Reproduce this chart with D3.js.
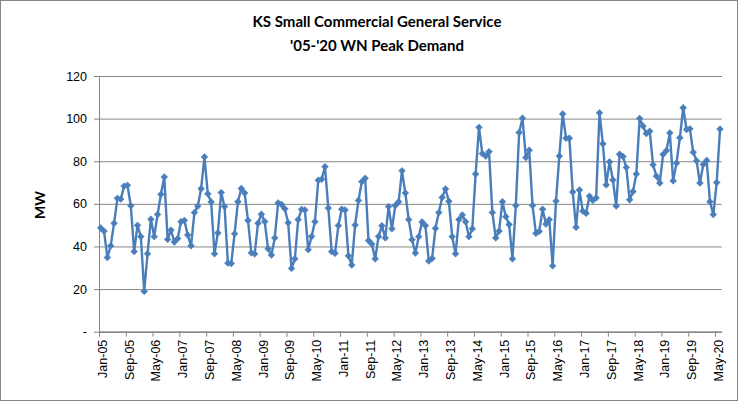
<!DOCTYPE html>
<html lang="en">
<head>
  <meta charset="UTF-8">
  <script src="https://d3js.org/d3.v7.min.js"></script>
  <style>
    body {
      margin: 0;
      padding: 0;
      background: #fff;
      font-family: "Liberation Sans", Arial, sans-serif;
    }
  </style>
</head>
<body>
  <script>
    // monthly categories, Jan-05 .. Jun-20
    const monthNames = ['Jan', 'Feb', 'Mar', 'Apr', 'May', 'Jun', 'Jul', 'Aug', 'Sep', 'Oct', 'Nov', 'Dec'];
    const years = ['05', '06', '07', '08', '09', '10', '11', '12', '13', '14', '15', '16', '17', '18', '19', '20'];
    const categories = [];
    years.forEach(y => monthNames.forEach(m => categories.push(m + '-' + y)));
    categories.length = 186;

    // WN peak demand, MW
    const peakDemand = [
      48.7, 47.2, 34.8, 40.3, 50.9, 62.6, 62.2, 68.3, 68.7, 59.1, 37.6, 49.9,
      44.6, 18.9, 36.6, 52.8, 44.6, 55.0, 64.5, 72.6, 43.3, 47.7, 42.1, 43.7,
      51.6, 52.2, 45.4, 40.3, 55.9, 58.9, 67.1, 82.0, 64.7, 60.9, 36.6, 46.3,
      65.3, 58.7, 32.2, 32.0, 46.0, 61.0, 67.2, 65.1, 52.2, 37.0, 36.5, 50.9,
      55.1, 51.7, 38.9, 36.0, 44.0, 60.4, 59.7, 57.7, 51.1, 29.7, 34.2, 52.6,
      57.4, 57.1, 38.5, 44.7, 51.6, 71.1, 71.5, 77.4, 58.0, 37.6, 36.8, 49.8,
      57.5, 57.1, 35.6, 31.3, 50.1, 61.6, 70.4, 72.0, 42.8, 41.1, 34.2, 44.7,
      49.7, 44.0, 58.7, 48.3, 59.2, 61.0, 75.5, 65.1, 52.6, 43.2, 36.9, 44.6,
      51.5, 49.8, 33.2, 34.4, 48.5, 55.9, 63.0, 67.0, 61.2, 44.6, 36.6, 52.6,
      54.8, 51.6, 44.6, 48.3, 74.0, 95.9, 83.6, 82.4, 84.5, 55.9, 44.0, 47.2,
      61.0, 54.0, 50.3, 34.2, 59.2, 93.5, 100.2, 81.7, 85.2, 59.2, 46.2, 47.1,
      57.5, 50.5, 52.6, 30.9, 61.3, 82.4, 102.2, 90.8, 90.8, 65.6, 49.0, 66.5,
      56.6, 55.6, 63.6, 61.6, 62.8, 102.7, 88.2, 68.9, 79.7, 71.2, 59.0, 83.3,
      82.2, 77.1, 61.9, 65.8, 74.0, 100.1, 96.5, 93.0, 94.1, 78.3, 73.0, 69.8,
      83.2, 85.0, 93.3, 70.8, 79.1, 91.0, 105.1, 94.9, 95.2, 84.2, 80.2, 69.8,
      78.5, 80.4, 61.0, 55.0, 70.0, 95.1
    ];

    const tickLabels = ['Jan-05', 'Sep-05', 'May-06', 'Jan-07', 'Sep-07', 'May-08', 'Jan-09', 'Sep-09',
      'May-10', 'Jan-11', 'Sep-11', 'May-12', 'Jan-13', 'Sep-13', 'May-14', 'Jan-15',
      'Sep-15', 'May-16', 'Jan-17', 'Sep-17', 'May-18', 'Jan-19', 'Sep-19', 'May-20'];
    const yTicks = [0, 20, 40, 60, 80, 100, 120];

    const width = 748, height = 402;
    const plot = { left: 99, right: 721.7, top: 76, bottom: 331.7 };

    const svg = d3.select('body').append('svg')
      .attr('width', width)
      .attr('height', height);

    // chart border
    svg.append('rect')
      .attr('x', 0.5).attr('y', 0.5)
      .attr('width', 737).attr('height', 400)
      .attr('fill', '#fff')
      .attr('stroke', '#868686');

    // x: category slots, points sit in the middle of each slot
    const x = d3.scaleLinear().domain([0, categories.length]).range([plot.left, plot.right]);
    const y = d3.scaleLinear().domain([0, 120]).range([plot.bottom, plot.top]);

    // gridlines + y axis
    const yAxis = d3.axisLeft(y)
      .tickValues(yTicks)
      .tickSize(-(plot.right - plot.left))
      .tickPadding(12)
      .tickFormat(d => d === 0 ? '-' : d);

    const gy = svg.append('g')
      .attr('transform', `translate(${plot.left},0)`)
      .call(yAxis);
    gy.select('.domain').attr('stroke', '#868686');
    gy.selectAll('.tick line')
      .attr('stroke', '#868686')
      .attr('x1', -5);
    gy.selectAll('.tick text')
      .attr('fill', '#000')
      .style('font-size', '12.5px')
      .style('font-family', '"Liberation Sans", Arial, sans-serif');

    // x axis with ticks every 8 months at slot boundaries
    const tickIdx = tickLabels.map((_, k) => k * 8);
    const xAxis = d3.axisBottom(x)
      .tickValues(tickIdx)
      .tickSize(5)
      .tickSizeOuter(0)
      .tickFormat((d, k) => tickLabels[k]);

    const gx = svg.append('g')
      .attr('transform', `translate(0,${plot.bottom})`)
      .call(xAxis);
    gx.select('.domain').attr('stroke', '#868686');
    gx.selectAll('.tick line').attr('stroke', '#868686');
    gx.selectAll('.tick text')
      .attr('fill', '#000')
      .style('font-size', '12.5px')
      .style('font-family', '"Liberation Sans", Arial, sans-serif')
      .attr('transform', 'rotate(-90)')
      .attr('x', -8)
      .attr('y', 3)
      .attr('dy', '0.35em')
      .style('text-anchor', 'end');

    // series line
    const line = d3.line()
      .x((d, i) => x(i + 0.5))
      .y(d => y(d));

    svg.append('path')
      .datum(peakDemand)
      .attr('fill', 'none')
      .attr('stroke', '#4a7ebb')
      .attr('stroke-width', 2.4)
      .attr('stroke-linejoin', 'round')
      .attr('d', line);

    // diamond markers
    svg.append('g')
      .selectAll('path')
      .data(peakDemand)
      .join('path')
      .attr('d', d3.symbol().type(d3.symbolDiamond2).size(30))
      .attr('transform', (d, i) => `translate(${x(i + 0.5)},${y(d)})`)
      .attr('fill', '#4a7ebb')
      .attr('stroke', '#4a7ebb')
      .attr('stroke-width', 0.5);

    // title
    const title = svg.append('text')
      .attr('text-anchor', 'middle')
      .style('font-family', 'Lato, "Liberation Sans", sans-serif')
      .style('font-weight', 'bold')
      .style('font-size', '15px');
    title.append('tspan').attr('x', 377).attr('y', 27).text('KS Small Commercial General Service');
    title.append('tspan').attr('x', 377).attr('y', 51).text("'05-'20 WN Peak Demand");

    // y axis title
    svg.append('text')
      .attr('transform', 'translate(45,205) rotate(-90)')
      .attr('text-anchor', 'middle')
      .style('font-family', 'Lato, "Liberation Sans", sans-serif')
      .style('font-weight', 'bold')
      .style('font-size', '14px')
      .text('MW');
  </script>
</body>
</html>
